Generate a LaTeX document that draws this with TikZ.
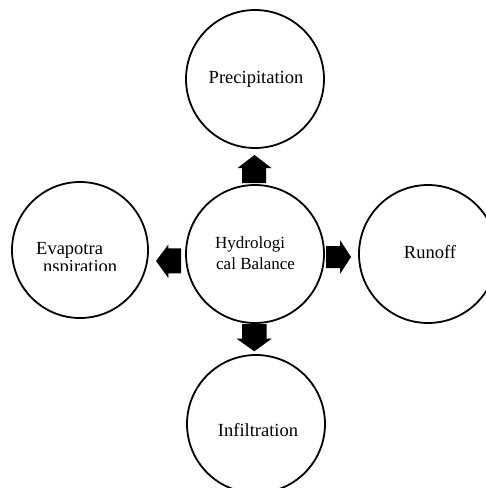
\documentclass[tikz,border=0pt]{standalone}
\usepackage{fontspec}
\setmainfont{Liberation Serif}
\begin{document}
\begin{tikzpicture}[x=1pt,y=-1pt,
  circ/.style={circle,draw,line width=1.8pt,minimum size=138pt,inner sep=0pt},
  lbl/.style={font=\fontsize{18.5}{20}\selectfont,inner sep=0pt},
  lblsmall/.style={font=\fontsize{17}{19}\selectfont,inner sep=0pt},
  blockarrow/.style={fill=black}]
\useasboundingbox (0,0) rectangle (486,488);
\node[circ] (hb) at (255,254) {};
\node[circ] (pr) at (255,79) {};
\node[circ] (ru) at (428,254) {};
\node[circ,minimum size=136pt] (ev) at (80,250) {};
\node[circ] (in) at (256,424) {};
% labels
\node[lbl,anchor=base] (tpr) at (256,83) {Precipitation};
\node[lbl,anchor=base] (tru) at (430,258) {Runoff};
\node[lbl,anchor=base] (tin) at (258,436) {Infiltration};
\node[lblsmall,anchor=base west] (thb1) at (215,248) {Hydrologi};
\node[lblsmall,anchor=base west] (thb2) at (216,269) {cal Balance};
\node[lbl,anchor=base west] (tev1) at (36,254.5) {Evapotra};
\begin{scope}
  \clip (30,260) rectangle (140,270.5);
  \node[lbl,anchor=base west] (tev2) at (43,272) {nspiration};
\end{scope}
% block arrows
\fill[blockarrow] (254.5,155) -- (271.5,168) -- (266,168) -- (266,183) -- (242,183) -- (242,168) -- (237.5,168) -- cycle;
\fill[blockarrow] (242,324) -- (266.5,324) -- (266.5,338.7) -- (271.7,338.7) -- (254.3,351.3) -- (236.7,338.7) -- (242,338.7) -- cycle;
\fill[blockarrow] (156,261) -- (168.3,244.5) -- (168.3,248.3) -- (181,248.3) -- (181,273.3) -- (168.3,273.3) -- (168.3,278) -- cycle;
\fill[blockarrow] (326,246) -- (340,246) -- (340,240) -- (351,257) -- (340,274) -- (340,268) -- (326,268) -- cycle;
\end{tikzpicture}
\end{document}
